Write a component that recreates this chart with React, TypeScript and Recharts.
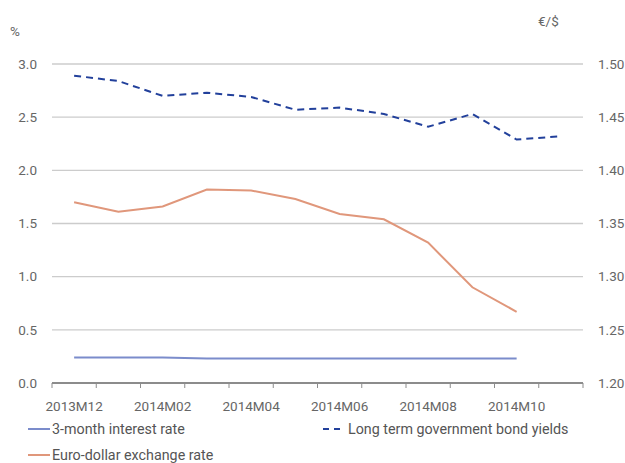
import React from "react";
import { ComposedChart, Line, XAxis, YAxis, CartesianGrid } from "recharts";

const months = [
  "2013M12", "2014M01", "2014M02", "2014M03", "2014M04", "2014M05",
  "2014M06", "2014M07", "2014M08", "2014M09", "2014M10", "2014M11",
];
const shortRate = [0.24, 0.24, 0.24, 0.23, 0.23, 0.23, 0.23, 0.23, 0.23, 0.23, 0.23, null];
const bondYield = [2.89, 2.84, 2.70, 2.73, 2.69, 2.57, 2.59, 2.53, 2.41, 2.53, 2.29, 2.32];
const eurUsd = [1.370, 1.361, 1.366, 1.382, 1.381, 1.373, 1.359, 1.354, 1.332, 1.290, 1.267, null];

const pctTicks = [0, 0.5, 1, 1.5, 2, 2.5, 3];
const fxTicks = [1.2, 1.25, 1.3, 1.35, 1.4, 1.45, 1.5];

const seriesNames = {
  short: "3-month interest rate",
  bond: "Long term government bond yields",
  fx: "Euro-dollar exchange rate",
};

const C_SHORT = "#7b8ccb";
const C_BOND = "#22409b";
const C_FX = "#e0977b";
const C_GRID = "#cccccc";
const C_AXIS = "#8c8c8c";
const C_TEXT = "#666666";
const FONT = "Roboto, 'Open Sans', sans-serif";

// x positions are band centres on a 0..12 numeric axis, so the boundary ticks fall on integers
const data = months.map((m, i) => ({
  pos: i + 0.5,
  month: m,
  short: shortRate[i],
  bond: bondYield[i],
  fx: eurUsd[i],
}));
const xTicks = Array.from({ length: months.length * 2 + 1 }, (_, i) => i / 2);

function MonthTick(props: any) {
  const { x, y, payload } = props;
  const v: number = payload.value;
  if (Number.isInteger(v)) {
    return <line x1={x} x2={x} y1={y} y2={y + 5} stroke={C_AXIS} strokeWidth={1} />;
  }
  const i = Math.floor(v);
  if (i % 2 !== 0) return <g />;
  return (
    <text x={x} y={y + 28} textAnchor="middle" fill={C_TEXT} fontSize={13.5} fontFamily={FONT}>
      {months[i]}
    </text>
  );
}

function LegendItem({ color, dashed, label }: { color: string; dashed?: boolean; label: string }) {
  return (
    <div style={{ display: "flex", alignItems: "center", whiteSpace: "nowrap" }}>
      <svg width={dashed ? 17 : 22} height={6} style={{ marginRight: dashed ? 8 : 2 }}>
        <line
          x1={0}
          x2={dashed ? 17 : 22}
          y1={3}
          y2={3}
          stroke={color}
          strokeWidth={2}
          strokeDasharray={dashed ? "6 5" : undefined}
        />
      </svg>
      <span>{label}</span>
    </div>
  );
}

const legendStyle: React.CSSProperties = {
  position: "absolute",
  fontSize: 14.3,
  fontFamily: FONT,
  color: "#555",
  lineHeight: "20px",
};

export default function App() {
  return (
    <div style={{ position: "absolute", left: 0, top: 0, width: 625, height: 463, overflow: "hidden", fontFamily: FONT, background: "#fff" }}>
      <ComposedChart
        width={625}
        height={463}
        data={data}
        margin={{ top: 64, right: 0, bottom: 70, left: 0 }}
      >
        <CartesianGrid yAxisId="pct" vertical={false} stroke={C_GRID} strokeWidth={1.3} />
        <XAxis
          dataKey="pos"
          type="number"
          domain={[0, 12]}
          ticks={xTicks}
          interval={0}
          height={10}
          tickSize={0}
          tickMargin={0}
          tickLine={false}
          axisLine={{ stroke: C_AXIS, strokeWidth: 2 }}
          tick={<MonthTick />}
        />
        <YAxis
          yAxisId="pct"
          domain={[0, 3]}
          ticks={pctTicks}
          width={52}
          axisLine={false}
          tickLine={false}
          tickMargin={9}
          tickFormatter={(v: number) => v.toFixed(1)}
          tick={{ fill: C_TEXT, fontSize: 13.5, fontFamily: FONT }}
          label={({ viewBox }: any) => (
            <text x={viewBox.x + 10} y={viewBox.y - 28} fill={C_TEXT} fontSize={13.5} fontFamily={FONT}>
              %
            </text>
          )}
        />
        <YAxis
          yAxisId="fx"
          orientation="right"
          domain={[1.2, 1.5]}
          ticks={fxTicks}
          width={42}
          axisLine={false}
          tickLine={false}
          tickMargin={9}
          tickFormatter={(v: number) => v.toFixed(2)}
          tick={{ fill: C_TEXT, fontSize: 13.5, fontFamily: FONT }}
          label={({ viewBox }: any) => (
            <text x={viewBox.x - 45} y={viewBox.y - 38} fill={C_TEXT} fontSize={13.5} fontFamily={FONT}>
              €/$
            </text>
          )}
        />
        <Line
          yAxisId="pct"
          dataKey="short"
          stroke={C_SHORT}
          strokeWidth={2}
          dot={false}
          isAnimationActive={false}
        />
        <Line
          yAxisId="pct"
          dataKey="bond"
          stroke={C_BOND}
          strokeWidth={2}
          strokeDasharray="7 5"
          dot={false}
          isAnimationActive={false}
        />
        <Line
          yAxisId="fx"
          dataKey="fx"
          stroke={C_FX}
          strokeWidth={2}
          dot={false}
          isAnimationActive={false}
        />
      </ComposedChart>
      <div style={{ ...legendStyle, left: 28, top: 419 }}>
        <LegendItem color={C_SHORT} label={seriesNames.short} />
      </div>
      <div style={{ ...legendStyle, left: 323, top: 419 }}>
        <LegendItem color={C_BOND} dashed label={seriesNames.bond} />
      </div>
      <div style={{ ...legendStyle, left: 28, top: 445 }}>
        <LegendItem color={C_FX} label={seriesNames.fx} />
      </div>
    </div>
  );
}
